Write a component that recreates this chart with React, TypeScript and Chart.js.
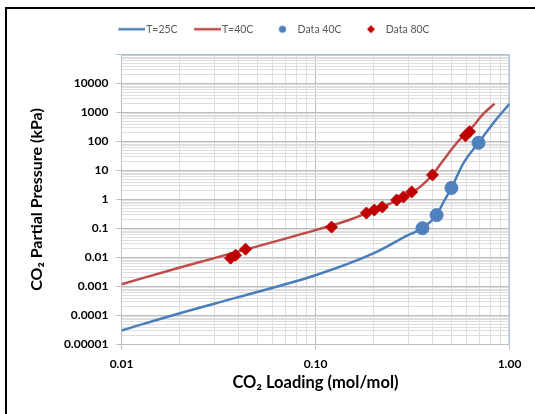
import React, { useEffect, useRef } from 'react';
import { Chart, registerables, layouts } from 'chart.js';

Chart.register(...registerables);

// ---- data ----
const curve25X = [0.01, 0.02, 0.04, 0.1, 0.2, 0.3, 0.356, 0.421, 0.457, 0.502, 0.579, 0.692, 0.828, 1.0];
const curve25Y = [3.05e-5, 1.2e-4, 4.3e-4, 2.44e-3, 0.0141, 0.059, 0.103, 0.29, 0.82, 2.5, 18, 90, 444, 2000];

const curve40X = [0.01, 0.02, 0.04, 0.1, 0.15, 0.2, 0.25, 0.3, 0.35, 0.4, 0.457, 0.514, 0.572, 0.645, 0.726, 0.837];
const curve40Y = [0.0012, 0.0045, 0.016, 0.088, 0.2, 0.42, 0.8, 1.45, 2.9, 7.0, 23, 65, 146, 320, 840, 2000];

const data40X = [0.356, 0.421, 0.502, 0.692];
const data40Y = [0.103, 0.29, 2.5, 90];

const data80X = [0.0365, 0.0387, 0.0436, 0.121, 0.183, 0.201, 0.221, 0.262, 0.284, 0.313, 0.401, 0.593, 0.622];
const data80Y = [0.0095, 0.012, 0.0194, 0.112, 0.341, 0.433, 0.55, 0.96, 1.22, 1.82, 7.05, 157, 217];

const seriesNames = ['T=25C', 'T=40C', 'Data 40C', 'Data 80C'];

const xTickValues = [0.01, 0.1, 1];
const xTickLabels = ['0.01', '0.10', '1.00'];
const yTickValues = [1e-5, 1e-4, 1e-3, 1e-2, 1e-1, 1, 10, 100, 1000, 10000];
const yTickLabels = ['0.00001', '0.0001', '0.001', '0.01', '0.1', '1', '10', '100', '1000', '10000'];

// ---- styles ----
const BLUE_LINE = '#4a7ebb';
const RED_LINE = '#be4b48';
const BLUE_PT = '#4f81bd';
const RED_PT = '#c00000';
const GRID_MAJOR = '#bdbdbd';
const GRID_MINOR = '#dedede';
const FONT = 'Lato';

const PL = 32, PR = 25.5, PT = 14, PB = 8;
const SPACER = 10;

const toPts = (xs: number[], ys: number[]) => xs.map((x, i) => ({ x, y: ys[i] }));

const isDecade = (v: number) => {
  if (!(v > 0)) return false;
  const l = Math.log10(v);
  return Math.abs(l - Math.round(l)) < 1e-6;
};

const labelFor = (v: number, vals: number[], labels: string[]) => {
  for (let i = 0; i < vals.length; i++) {
    if (Math.abs(v / vals[i] - 1) < 1e-6) return labels[i];
  }
  return '';
};

const dropHalfSteps = (scale: any) => {
  scale.ticks = scale.ticks.filter((t: any) => {
    const e = Math.floor(Math.log10(t.value) + 1e-9);
    const m = t.value / Math.pow(10, e);
    return Math.abs(m - 1.5) > 1e-6;
  });
};

const gridColor = (ctx: any) => (ctx.tick && isDecade(ctx.tick.value) ? GRID_MAJOR : GRID_MINOR);
const tickColor = (ctx: any) => (ctx.tick && isDecade(ctx.tick.value) ? GRID_MAJOR : 'rgba(0,0,0,0)');

const plotBorder = {
  id: 'plotBorder',
  beforeDatasetsDraw(chart: any) {
    const { ctx, chartArea: a } = chart;
    ctx.save();
    ctx.strokeStyle = '#a7bddc';
    ctx.lineWidth = 1;
    ctx.beginPath();
    ctx.moveTo(a.left, a.top + 0.5);
    ctx.lineTo(a.right - 0.5, a.top + 0.5);
    ctx.lineTo(a.right - 0.5, a.bottom);
    ctx.stroke();
    ctx.restore();
  },
};

// empty layout box between the legend and the plot area
const legendSpacer = {
  id: 'legendSpacer',
  beforeInit(chart: any) {
    const box: any = {
      position: 'top',
      weight: 500,
      fullSize: true,
      options: { stackWeight: 1 },
      left: 0, top: 0, right: 0, bottom: 0, width: 0, height: 0,
      isHorizontal: () => true,
      update(maxWidth: number) {
        box.width = maxWidth;
        box.height = SPACER;
      },
      draw() {},
    };
    layouts.addBox(chart, box);
  },
};

function makeImg(draw: (g: CanvasRenderingContext2D) => void) {
  const c = document.createElement('canvas');
  c.width = 38;
  c.height = 14;
  const g = c.getContext('2d')!;
  draw(g);
  return c;
}

export default function App() {
  const ref = useRef<HTMLCanvasElement>(null);

  useEffect(() => {
    const canvas = ref.current!;
    const imgs = [
      makeImg((g) => {
        g.strokeStyle = BLUE_LINE; g.lineWidth = 2.5; g.beginPath(); g.moveTo(11, 7); g.lineTo(38, 7); g.stroke();
      }),
      makeImg((g) => {
        g.strokeStyle = RED_LINE; g.lineWidth = 2.5; g.beginPath(); g.moveTo(11, 7); g.lineTo(38, 7); g.stroke();
      }),
      makeImg((g) => {
        g.fillStyle = BLUE_PT; g.beginPath(); g.arc(23.6, 7, 3.6, 0, Math.PI * 2); g.fill();
      }),
      makeImg((g) => {
        g.fillStyle = RED_PT; g.beginPath(); g.moveTo(24, 3); g.lineTo(28, 7); g.lineTo(24, 11); g.lineTo(20, 7); g.closePath(); g.fill();
      }),
    ];

    const chart = new Chart(canvas, {
      type: 'line',
      data: {
        datasets: [
          {
            label: seriesNames[0],
            data: toPts(curve25X, curve25Y),
            borderColor: BLUE_LINE,
            backgroundColor: BLUE_LINE,
            borderWidth: 2.5,
            pointRadius: 0,
            cubicInterpolationMode: 'monotone',
            fill: false,
            order: 2,
          },
          {
            label: seriesNames[1],
            data: toPts(curve40X, curve40Y),
            borderColor: RED_LINE,
            backgroundColor: RED_LINE,
            borderWidth: 2.5,
            pointRadius: 0,
            cubicInterpolationMode: 'monotone',
            fill: false,
            order: 2,
          },
          {
            label: seriesNames[2],
            data: toPts(data40X, data40Y),
            showLine: false,
            pointStyle: 'circle',
            pointRadius: 6.5,
            pointBackgroundColor: BLUE_PT,
            pointBorderColor: BLUE_PT,
            borderColor: BLUE_PT,
            backgroundColor: BLUE_PT,
            order: 0,
          },
          {
            label: seriesNames[3],
            data: toPts(data80X, data80Y),
            showLine: false,
            pointStyle: 'rectRot',
            pointRadius: 6,
            pointBackgroundColor: RED_PT,
            pointBorderColor: RED_PT,
            borderColor: RED_PT,
            backgroundColor: RED_PT,
            order: 1,
          },
        ] as any,
      },
      options: {
        animation: false,
        responsive: false,
        events: [],
        layout: { padding: { left: PL, right: PR, top: PT, bottom: PB } },
        plugins: {
          tooltip: { enabled: false },
          legend: {
            display: true,
            position: 'top',
            labels: {
              usePointStyle: true,
              pointStyleWidth: 29,
              padding: 10,
              color: '#595959',
              font: { family: FONT, size: 10.5 },
              sort: (a: any, b: any) => a.datasetIndex - b.datasetIndex,
              generateLabels: (ch: any) =>
                (Chart.defaults.plugins.legend.labels as any)
                  .generateLabels(ch)
                  .map((it: any) => ({ ...it, pointStyle: imgs[it.datasetIndex] })),
            },
          },
        },
        scales: {
          x: {
            type: 'logarithmic',
            min: 0.01,
            max: 1,
            afterBuildTicks: dropHalfSteps,
            afterFit: (s: any) => { s.height = 414 - PB - 344.5; },
            ticks: {
              autoSkip: false,
              maxRotation: 0,
              padding: 7,
              color: '#000',
              font: { family: FONT, size: 12, weight: 'bold' },
              callback: (v: any) => labelFor(Number(v), xTickValues, xTickLabels),
            },
            grid: { color: gridColor, tickColor: tickColor, tickLength: 5, lineWidth: 1 },
            border: { color: '#bfbfbf' },
            title: {
              display: true,
              text: 'CO₂ Loading (mol/mol)',
              color: '#000',
              font: { family: FONT, size: 16.5, weight: 'bold' },
              padding: { top: 0, bottom: 21.4 - PB },
            },
          },
          y: {
            type: 'logarithmic',
            min: 1e-5,
            max: 1e5,
            afterBuildTicks: dropHalfSteps,
            afterFit: (s: any) => { s.width = 121.5 - PL; },
            ticks: {
              autoSkip: false,
              padding: 8,
              color: '#000',
              font: { family: FONT, size: 12, weight: 'bold' },
              callback: (v: any) => labelFor(Number(v), yTickValues, yTickLabels),
            },
            grid: { color: gridColor, tickColor: tickColor, tickLength: 5, lineWidth: 1 },
            border: { color: '#bfbfbf' },
            title: {
              display: true,
              text: 'CO₂ Partial Pressure (kPa)',
              color: '#000',
              font: { family: FONT, size: 16, weight: 'bold' },
              padding: { top: 37 - PL - 9.6, bottom: 0 },
            },
          },
        },
      } as any,
      plugins: [plotBorder, legendSpacer],
    });
    return () => chart.destroy();
  }, []);

  return (
    <div style={{ position: 'absolute', left: 0, top: 0, width: 535, height: 414, overflow: 'hidden', background: '#fff' }}>
      <canvas ref={ref} width={535} height={414} style={{ display: 'block' }} />
      <div
        style={{
          position: 'absolute',
          left: 5,
          top: 7,
          width: 600,
          height: 500,
          border: '2px solid #000',
          boxSizing: 'border-box',
          pointerEvents: 'none',
        }}
      />
    </div>
  );
}
